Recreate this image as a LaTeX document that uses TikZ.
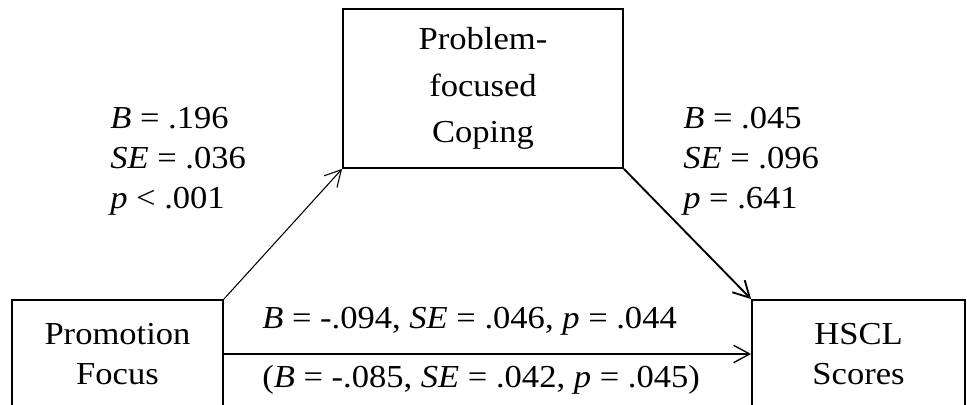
\documentclass[tikz,border=0pt]{standalone}
\usepackage{fontspec}
\setmainfont{Liberation Serif}[FakeStretch=1.08]
\usetikzlibrary{positioning, arrows.meta}

\begin{document}
\begin{tikzpicture}
	[on grid, >={Straight Barb[length=12pt,width=13pt]},
	 var/.style={draw, line width=1.4pt, align=center, inner sep=0pt},
	 stat/.style={align=left, inner sep=0pt, anchor=base west,
	   font=\fontsize{24}{30}\selectfont}] 
   \useasboundingbox (-88.125pt,-37.5pt) rectangle (637.125pt,265.5pt);
   \node[var, minimum width=158.25pt, minimum height=81pt,
     font=\fontsize{24}{29.5}\selectfont] (promo) {Promotion\\Focus}; 
   \node[var, minimum width=210pt, minimum height=119.25pt,
     font=\fontsize{24}{35}\selectfont] (coping) [above right=199.125pt and 274.125pt of promo] {Problem-\\focused\\Coping}; 
   \node[var, minimum width=159.75pt, minimum height=81pt,
     font=\fontsize{24}{29.5}\selectfont] (hscl) [right=555.75pt of promo] {HSCL\\Scores};
   % path estimates
   \node[stat] (a_path) at (-5.625pt,109.5pt) {\textit{B} = .196\\\textit{SE} = .036\\\textit{p} < .001};
   \node[stat] (b_path) at (424.125pt,109.5pt) {\textit{B} = .045\\\textit{SE} = .096\\\textit{p} = .641};
   \node[stat] (c_path) at (108.375pt,19.5pt) {\textit{B} = -.094, \textit{SE} = .046, \textit{p} = .044};
   \node[stat] (c_prime) at (108.375pt,-24.75pt) {(\textit{B} = -.085, \textit{SE} = .042, \textit{p} = .045)};
    \draw[->, line width=0.8pt] (promo.north east) -- (coping.south west);
    \draw[->, line width=1.4pt] (coping.south east) -- (hscl.north west);
    \draw[->, line width=1pt] (promo) -- (hscl);
\end{tikzpicture}
\end{document}
